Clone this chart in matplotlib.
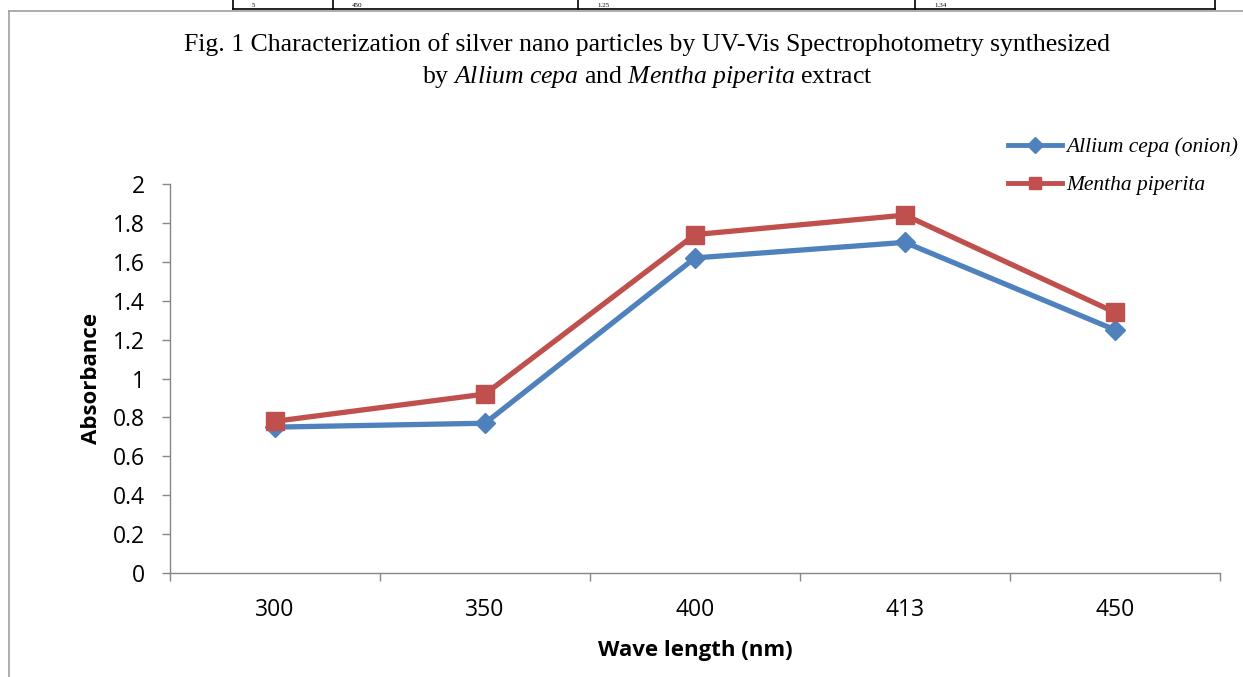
import numpy as np
import matplotlib
matplotlib.use("Agg")
import matplotlib.pyplot as plt
from matplotlib.lines import Line2D

plt.rcParams["mathtext.fontset"] = "custom"
plt.rcParams["mathtext.it"] = "Liberation Serif:italic"
plt.rcParams["mathtext.rm"] = "Liberation Serif"

# Dados
comprimentos = ["300", "350", "400", "413", "450"]
allium_cepa = [0.75, 0.77, 1.62, 1.70, 1.25]
mentha_piperita = [0.78, 0.92, 1.74, 1.84, 1.34]
yticks = [0, 0.2, 0.4, 0.6, 0.8, 1, 1.2, 1.4, 1.6, 1.8, 2]

# Fragmento da tabela no topo da página
tabela_topo = ["5", "450", "1.25", "1.34"]

azul = "#4F81BD"
vermelho = "#C0504D"
cinza = "#868686"
fonte_eixos = "Open Sans"

W, H = 1243, 677
fig = plt.figure(figsize=(W / 100, H / 100), dpi=100)

# Linhas da tabela cortada no topo
for xp in [233, 333, 578, 915, 1215]:
    fig.add_artist(Line2D([xp / W, xp / W], [1, 1 - 9 / H], color="black", lw=1.2))
fig.add_artist(Line2D([233 / W, 1215 / W], [1 - 9 / H, 1 - 9 / H], color="black", lw=1.2))
for xp, txt in zip([252, 352, 597, 934], tabela_topo):
    fig.text(xp / W, 1 - 7 / H, txt, fontsize=5, family="Liberation Serif",
             va="baseline", ha="left", color="black")

# Moldura do gráfico
fig.add_artist(Line2D([9 / W, 9 / W], [0, 1 - 11 / H], color="#A0A0A0", lw=1.2))
fig.add_artist(Line2D([9 / W, 1], [1 - 11 / H, 1 - 11 / H], color="#A0A0A0", lw=1.2))

# Título
fig.text(647 / W, 1 - 45 / H,
         "Fig. 1 Characterization of silver nano particles by UV-Vis Spectrophotometry synthesized",
         ha="center", va="center", fontsize=18.5, family="Liberation Serif")
fig.text(647 / W, 1 - 77 / H,
         r"by $\mathit{Allium\ cepa}$ and $\mathit{Mentha\ piperita}$ extract",
         ha="center", va="center", fontsize=18.5, family="Liberation Serif")

ax = fig.add_axes([170 / W, 104 / H, 1050 / W, 389 / H])
x = np.arange(len(comprimentos))
ax.plot(x, allium_cepa, color=azul, lw=3.8, marker="D", markersize=10,
        label="Allium cepa (onion)")
ax.plot(x, mentha_piperita, color=vermelho, lw=3.8, marker="s", markersize=13,
        label="Mentha piperita")

ax.set_xlim(-0.5, len(comprimentos) - 0.5)
ax.set_ylim(0, 2)
ax.set_yticks(yticks)
ax.set_yticklabels([f"{v:g}" for v in yticks], family=fonte_eixos, fontsize=16.5)
ax.set_xticks(x)
ax.set_xticklabels(comprimentos, family=fonte_eixos, fontsize=16.5)
ax.set_xticks(np.arange(-0.5, len(comprimentos)), minor=True)
ax.tick_params(axis="x", which="major", length=0, pad=18)
ax.tick_params(axis="x", which="minor", length=6, color=cinza, width=1)
ax.tick_params(axis="y", length=6, color=cinza, width=1, pad=12)

for lado in ["top", "right"]:
    ax.spines[lado].set_visible(False)
for lado in ["left", "bottom"]:
    ax.spines[lado].set_color(cinza)
    ax.spines[lado].set_linewidth(1)

ax.set_xlabel("Wave length (nm)", family=fonte_eixos, fontsize=16,
              fontweight="bold", labelpad=13)
ax.set_ylabel("Absorbance", family=fonte_eixos, fontsize=16,
              fontweight="bold", labelpad=8)

leg = ax.legend(loc="upper left", bbox_to_anchor=(838 / 1050, 1 + 47 / 389),
                frameon=False, borderpad=0, borderaxespad=0,
                prop={"family": "Liberation Serif", "style": "italic", "size": 15.5},
                handlelength=2.5, labelspacing=0.85, handletextpad=0.2)
for h in leg.legend_handles:
    h.set_markersize(8)
    h.set_linewidth(3.5)

fig.savefig("out.png", dpi=100)
